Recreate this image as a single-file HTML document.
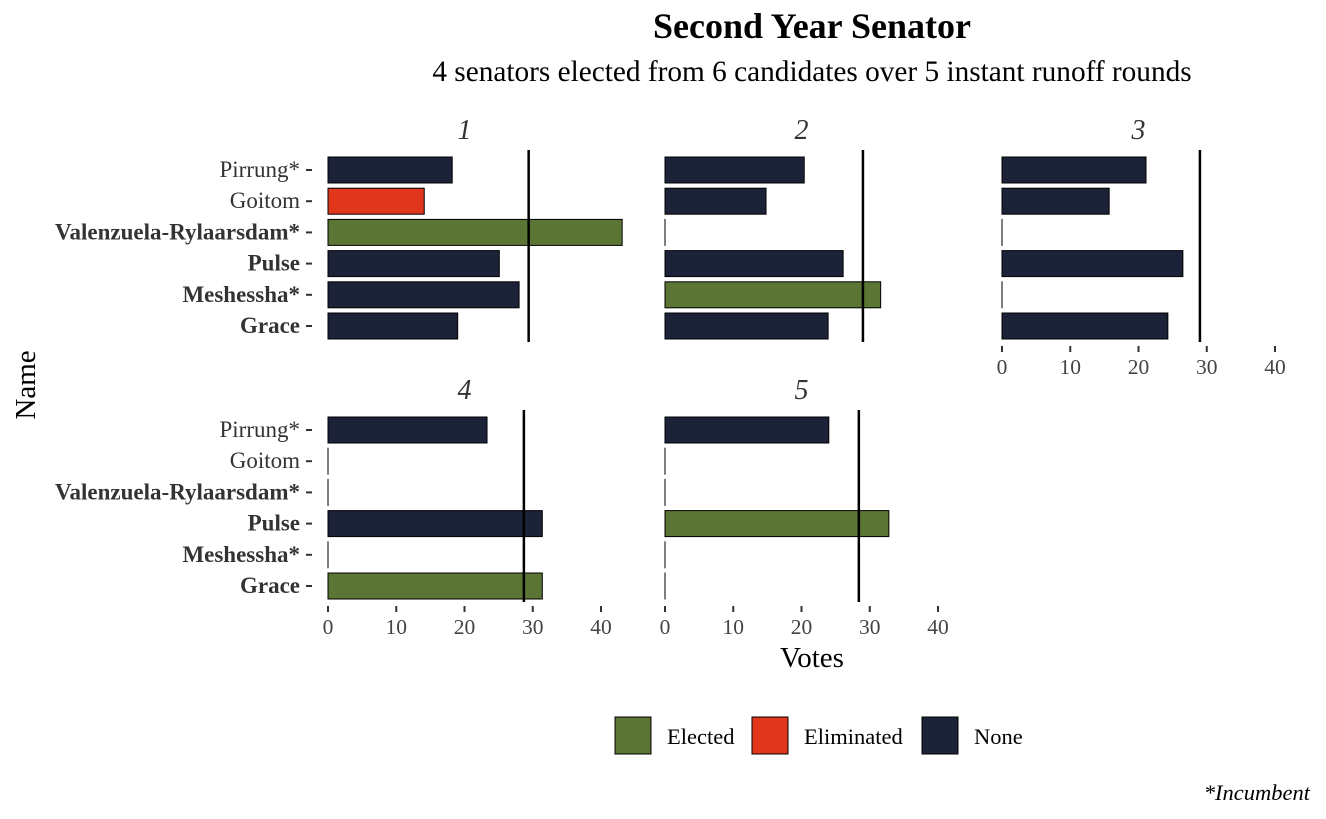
<!DOCTYPE html>
<html><head><meta charset="utf-8"><style>
html,body{margin:0;padding:0;background:#fff}
svg{display:block;font-family:"Liberation Serif",serif}
</style></head><body>
<svg id="c" width="1326" height="819">
<text x="812" y="38" text-anchor="middle" font-size="36" font-weight="bold">Second Year Senator</text>
<text x="812" y="81" text-anchor="middle" font-size="29.3">4 senators elected from 6 candidates over 5 instant runoff rounds</text>
<text x="0" y="0" transform="translate(35,385) rotate(-90)" text-anchor="middle" font-size="29">Name</text>
<text x="812" y="667" text-anchor="middle" font-size="29">Votes</text>
<g id="legend">
<rect x="615" y="717" width="36" height="37" fill="#5a7534" stroke="#000"/>
<text x="667" y="744" font-size="22.5">Elected</text>
<rect x="752" y="717" width="36" height="37" fill="#e0361c" stroke="#000"/>
<text x="804" y="744" font-size="22.5">Eliminated</text>
<rect x="922" y="717" width="36" height="37" fill="#1c2237" stroke="#000"/>
<text x="974" y="744" font-size="22.5">None</text>
</g>
<text x="1310" y="800" text-anchor="end" font-size="22.5" font-style="italic">*Incumbent</text>
</svg>
<script>
const names = ["Pirrung","Goitom","Valenzuela-Rylaarsdam","Pulse","Meshessha","Grace"];
const incumbent = [true,false,true,false,true,false];
const boldName = [false,false,true,true,true,true];
const rounds = ["1","2","3","4","5"];
const votesR1 = [18.2,14.1,43.1,25.1,28.0,19.0];
const votesR2 = [20.4,14.8,0,26.1,31.6,23.9];
const votesR3 = [21.1,15.7,0,26.5,0,24.3];
const votesR4 = [23.3,0,0,31.4,0,31.4];
const votesR5 = [24.0,0,0,32.8,0,0];
const statusR1 = ["None","Eliminated","Elected","None","None","None"];
const statusR2 = ["None","None","Elected","None","Elected","None"];
const statusR3 = ["None","None","None","None","None","None"];
const statusR4 = ["None","None","None","None","None","Elected"];
const statusR5 = ["None","None","None","Elected","None","None"];
const thresholds = [29.4,29.0,29.0,28.7,28.4];
const xTicks = [0,10,20,30,40];

const allVotes=[votesR1,votesR2,votesR3,votesR4,votesR5];
const allStatus=[statusR1,statusR2,statusR3,statusR4,statusR5];
const colors={Elected:"#5a7534",Eliminated:"#e0361c",None:"#1c2237"};
const NS="http://www.w3.org/2000/svg";
const svg=document.getElementById('c');
const panels=[{x0:328,top:154},{x0:665,top:154},{x0:1002,top:154},{x0:328,top:414},{x0:665,top:414}];
const pxPer=6.825, step=31.2, bh=26;
function mk(t,a,p){const e=document.createElementNS(NS,t);for(const k in a)e.setAttribute(k,a[k]);(p||svg).appendChild(e);return e;}
panels.forEach((p,i)=>{
  const g=mk('g',{});
  
  
  const xs=v=>p.x0+v*pxPer;
  const yc=j=>p.top+16+j*step;
  const st=mk('text',{x:xs(20),y:p.top-15,'text-anchor':'middle','font-size':28,'font-style':'italic',fill:'#333'},g);
  st.textContent=rounds[i];
  
  
  allVotes[i].forEach((v,j)=>{
    const r=mk('rect',{x:xs(0),y:yc(j)-bh/2,width:Math.max(v*pxPer,0.01),height:bh,fill:colors[allStatus[i][j]],stroke:'#000','stroke-width':1},g);
    
    
  });
  const tl=mk('line',{x1:xs(thresholds[i]),x2:xs(thresholds[i]),y1:p.top-4,y2:p.top+188,stroke:'#000','stroke-width':2.5},g);
  
  
  if(i===0||i===3){
    names.forEach((n,j)=>{
      const t=mk('text',{x:p.x0-28,y:yc(j)+7,'text-anchor':'end','font-size':23,fill:'#333','font-weight':boldName[j]?'bold':'normal'},g);
      t.textContent=n+(incumbent[j]?'*':'');
      
      
      mk('line',{x1:p.x0-22,x2:p.x0-16,y1:yc(j),y2:yc(j),stroke:'#333','stroke-width':2},g);
    });
  }
  if(i>=2){
    const ay=p.top+192;
    xTicks.forEach(tv=>{
      mk('line',{x1:xs(tv),x2:xs(tv),y1:ay,y2:ay+6,stroke:'#333','stroke-width':2},g);
      const t=mk('text',{x:xs(tv),y:ay+28,'text-anchor':'middle','font-size':21.5,fill:'#444'},g);
      t.textContent=tv;
      
      
    });
  }
});
</script>
</body></html>
